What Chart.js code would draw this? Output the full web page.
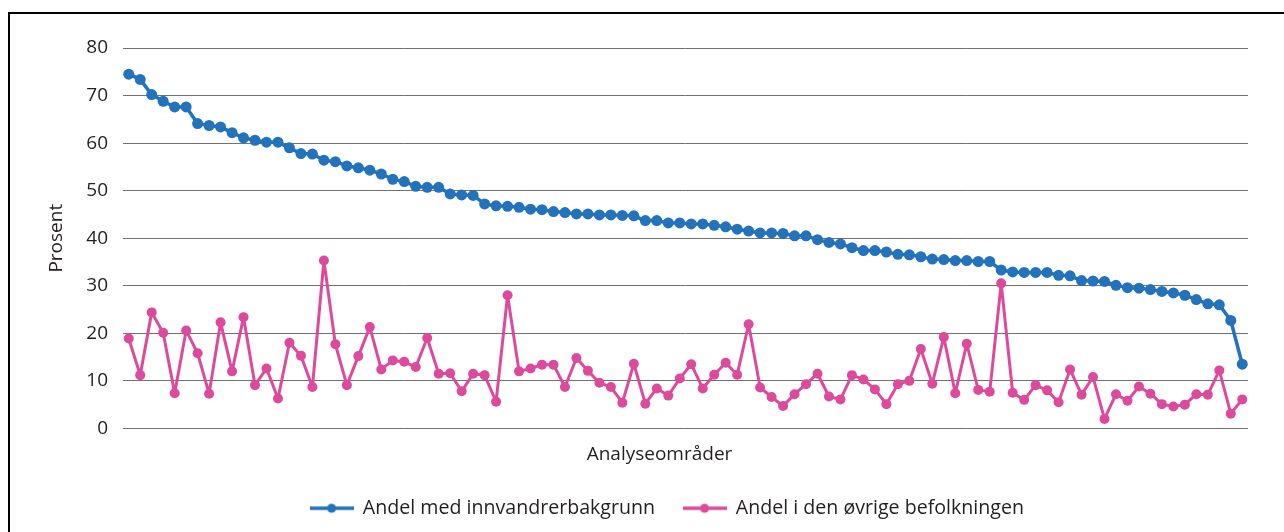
<!DOCTYPE html>
<html>
<head>
<meta charset="utf-8">
<script src="https://cdn.jsdelivr.net/npm/chart.js@4/dist/chart.umd.min.js"></script>
<style>
  html, body { margin: 0; padding: 0; background: #fff; overflow: hidden; }
  #wrap { position: relative; width: 1284px; height: 532px; }
  #frame { position: absolute; left: 8px; top: 12px; width: 1300px; height: 600px; border: 2px solid #000; box-sizing: border-box; pointer-events: none; }
  canvas { position: absolute; left: 0; top: 0; }
</style>
</head>
<body>
<div id="wrap">
  <canvas id="c" width="1284" height="532"></canvas>
  <div id="frame"></div>
</div>
<script>
const andelInnvandrer = [
  74.5, 73.4, 70.2, 68.8, 67.6, 67.6, 64.1, 63.7, 63.4, 62.2,
  61.1, 60.6, 60.2, 60.2, 59.0, 57.8, 57.7, 56.4, 56.1, 55.2,
  54.8, 54.3, 53.5, 52.4, 51.9, 50.9, 50.7, 50.7, 49.3, 49.1,
  49.0, 47.2, 46.8, 46.7, 46.5, 46.1, 46.0, 45.6, 45.4, 45.1,
  45.1, 44.9, 44.9, 44.8, 44.7, 43.7, 43.7, 43.2, 43.2, 43.0,
  43.0, 42.7, 42.4, 41.9, 41.5, 41.1, 41.1, 41.0, 40.5, 40.5,
  39.7, 39.1, 38.8, 38.0, 37.4, 37.4, 37.1, 36.6, 36.5, 36.1,
  35.6, 35.5, 35.3, 35.3, 35.1, 35.1, 33.3, 32.9, 32.8, 32.8,
  32.8, 32.2, 32.1, 31.1, 31.0, 30.9, 30.1, 29.6, 29.5, 29.2,
  28.8, 28.5, 28.0, 27.1, 26.2, 26.0, 22.7, 13.5
];
const andelOvrige = [
  18.9, 11.2, 24.4, 20.1, 7.4, 20.6, 15.8, 7.3, 22.3, 12.0,
  23.4, 9.1, 12.6, 6.3, 18.0, 15.3, 8.7, 35.3, 17.7, 9.1,
  15.2, 21.3, 12.4, 14.3, 14.0, 12.9, 19.0, 11.5, 11.6, 7.8,
  11.5, 11.2, 5.6, 28.0, 12.0, 12.6, 13.4, 13.4, 8.7, 14.8,
  12.1, 9.6, 8.7, 5.4, 13.6, 5.2, 8.4, 6.9, 10.5, 13.5,
  8.4, 11.3, 13.8, 11.3, 21.9, 8.6, 6.6, 4.7, 7.2, 9.3,
  11.5, 6.7, 6.1, 11.2, 10.3, 8.2, 5.1, 9.3, 10.0, 16.7,
  9.4, 19.2, 7.4, 17.8, 8.1, 7.7, 30.5, 7.5, 6.0, 9.1,
  8.0, 5.5, 12.4, 7.1, 10.8, 2.0, 7.2, 5.8, 8.8, 7.3,
  5.1, 4.6, 5.0, 7.2, 7.1, 12.2, 3.1, 6.1
];
const categories = andelInnvandrer.map((_, i) => 'Område ' + (i + 1));
const seriesNames = ['Andel med innvandrerbakgrunn', 'Andel i den øvrige befolkningen'];
const yTickValues = [0, 10, 20, 30, 40, 50, 60, 70, 80];
const yTitle = 'Prosent';
const xTitle = 'Analyseområder';

const BLUE = '#2273BB';
const PINK = '#DD4A9C';
const TEXT = '#231f20';
const FONT = "'Open Sans', 'Noto Sans', sans-serif";

function legendMarker(color) {
  const c = document.createElement('canvas');
  c.width = 44; c.height = 12;
  const g = c.getContext('2d');
  g.strokeStyle = color; g.lineWidth = 3.5;
  g.beginPath(); g.moveTo(0, 6); g.lineTo(44, 6); g.stroke();
  g.fillStyle = color;
  g.beginPath(); g.arc(22, 6, 4.5, 0, Math.PI * 2); g.fill();
  return c;
}
const markers = [legendMarker(BLUE), legendMarker(PINK)];

const shiftPlugin = {
  id: 'shiftBoxes',
  afterLayout(chart) {
    const lg = chart.legend;
    if (lg) { const d = 667 - (lg.left + lg.right) / 2; lg.left += d; lg.right += d; }
    const tb = chart.titleBlock;
    if (tb) { const d = 659.5 - (tb.left + tb.right) / 2; tb.left += d; tb.right += d; }
  }
};

new Chart(document.getElementById('c'), {
  type: 'line',
  data: {
    labels: categories,
    datasets: [
      { label: seriesNames[0], data: andelInnvandrer, borderColor: BLUE, backgroundColor: BLUE,
        borderWidth: 3.5, borderJoinStyle: 'round', borderCapStyle: 'round',
        pointRadius: 5.5, pointHoverRadius: 5.5, pointBorderWidth: 0, tension: 0 },
      { label: seriesNames[1], data: andelOvrige, borderColor: PINK, backgroundColor: PINK,
        borderWidth: 3, borderJoinStyle: 'round', borderCapStyle: 'round',
        pointRadius: 5, pointHoverRadius: 5, pointBorderWidth: 0, tension: 0 }
    ]
  },
  options: {
    responsive: false,
    animation: false,
    devicePixelRatio: 1,
    layout: { padding: { top: 48, right: 36, bottom: 4, left: 0 } },
    scales: {
      x: {
        type: 'category',
        offset: true,
        grid: { display: false },
        border: { display: false },
        ticks: { display: false },
        afterFit(scale) { scale.height = 0; }
      },
      y: {
        min: 0, max: 80,
        afterBuildTicks(scale) { scale.ticks = yTickValues.map(v => ({ value: v })); },
        grid: { color: '#707070', lineWidth: 1, drawTicks: false },
        border: { display: false },
        ticks: { padding: 15, color: TEXT, font: { family: FONT, size: 19 } },
        title: { display: true, text: yTitle, color: TEXT, font: { family: FONT, size: 19 }, padding: { top: 45.6, bottom: 0 } },
        afterFit(scale) { scale.width = 123; }
      }
    },
    plugins: {
      tooltip: { enabled: false },
      title: {
        display: true, text: xTitle, position: 'bottom', weight: 500,
        color: TEXT, font: { family: FONT, size: 19, weight: 'normal' },
        padding: { top: 15, bottom: 4.2 }
      },
      legend: {
        display: true, position: 'bottom',
        labels: {
          color: TEXT, font: { family: FONT, size: 19.6 },
          usePointStyle: true, pointStyleWidth: 43, padding: 28,
          generateLabels(chart) {
            const items = Chart.defaults.plugins.legend.labels.generateLabels(chart);
            items.forEach((it, i) => { it.pointStyle = markers[i]; });
            return items;
          }
        }
      }
    }
  },
  plugins: [shiftPlugin]
});
</script>
</body>
</html>
